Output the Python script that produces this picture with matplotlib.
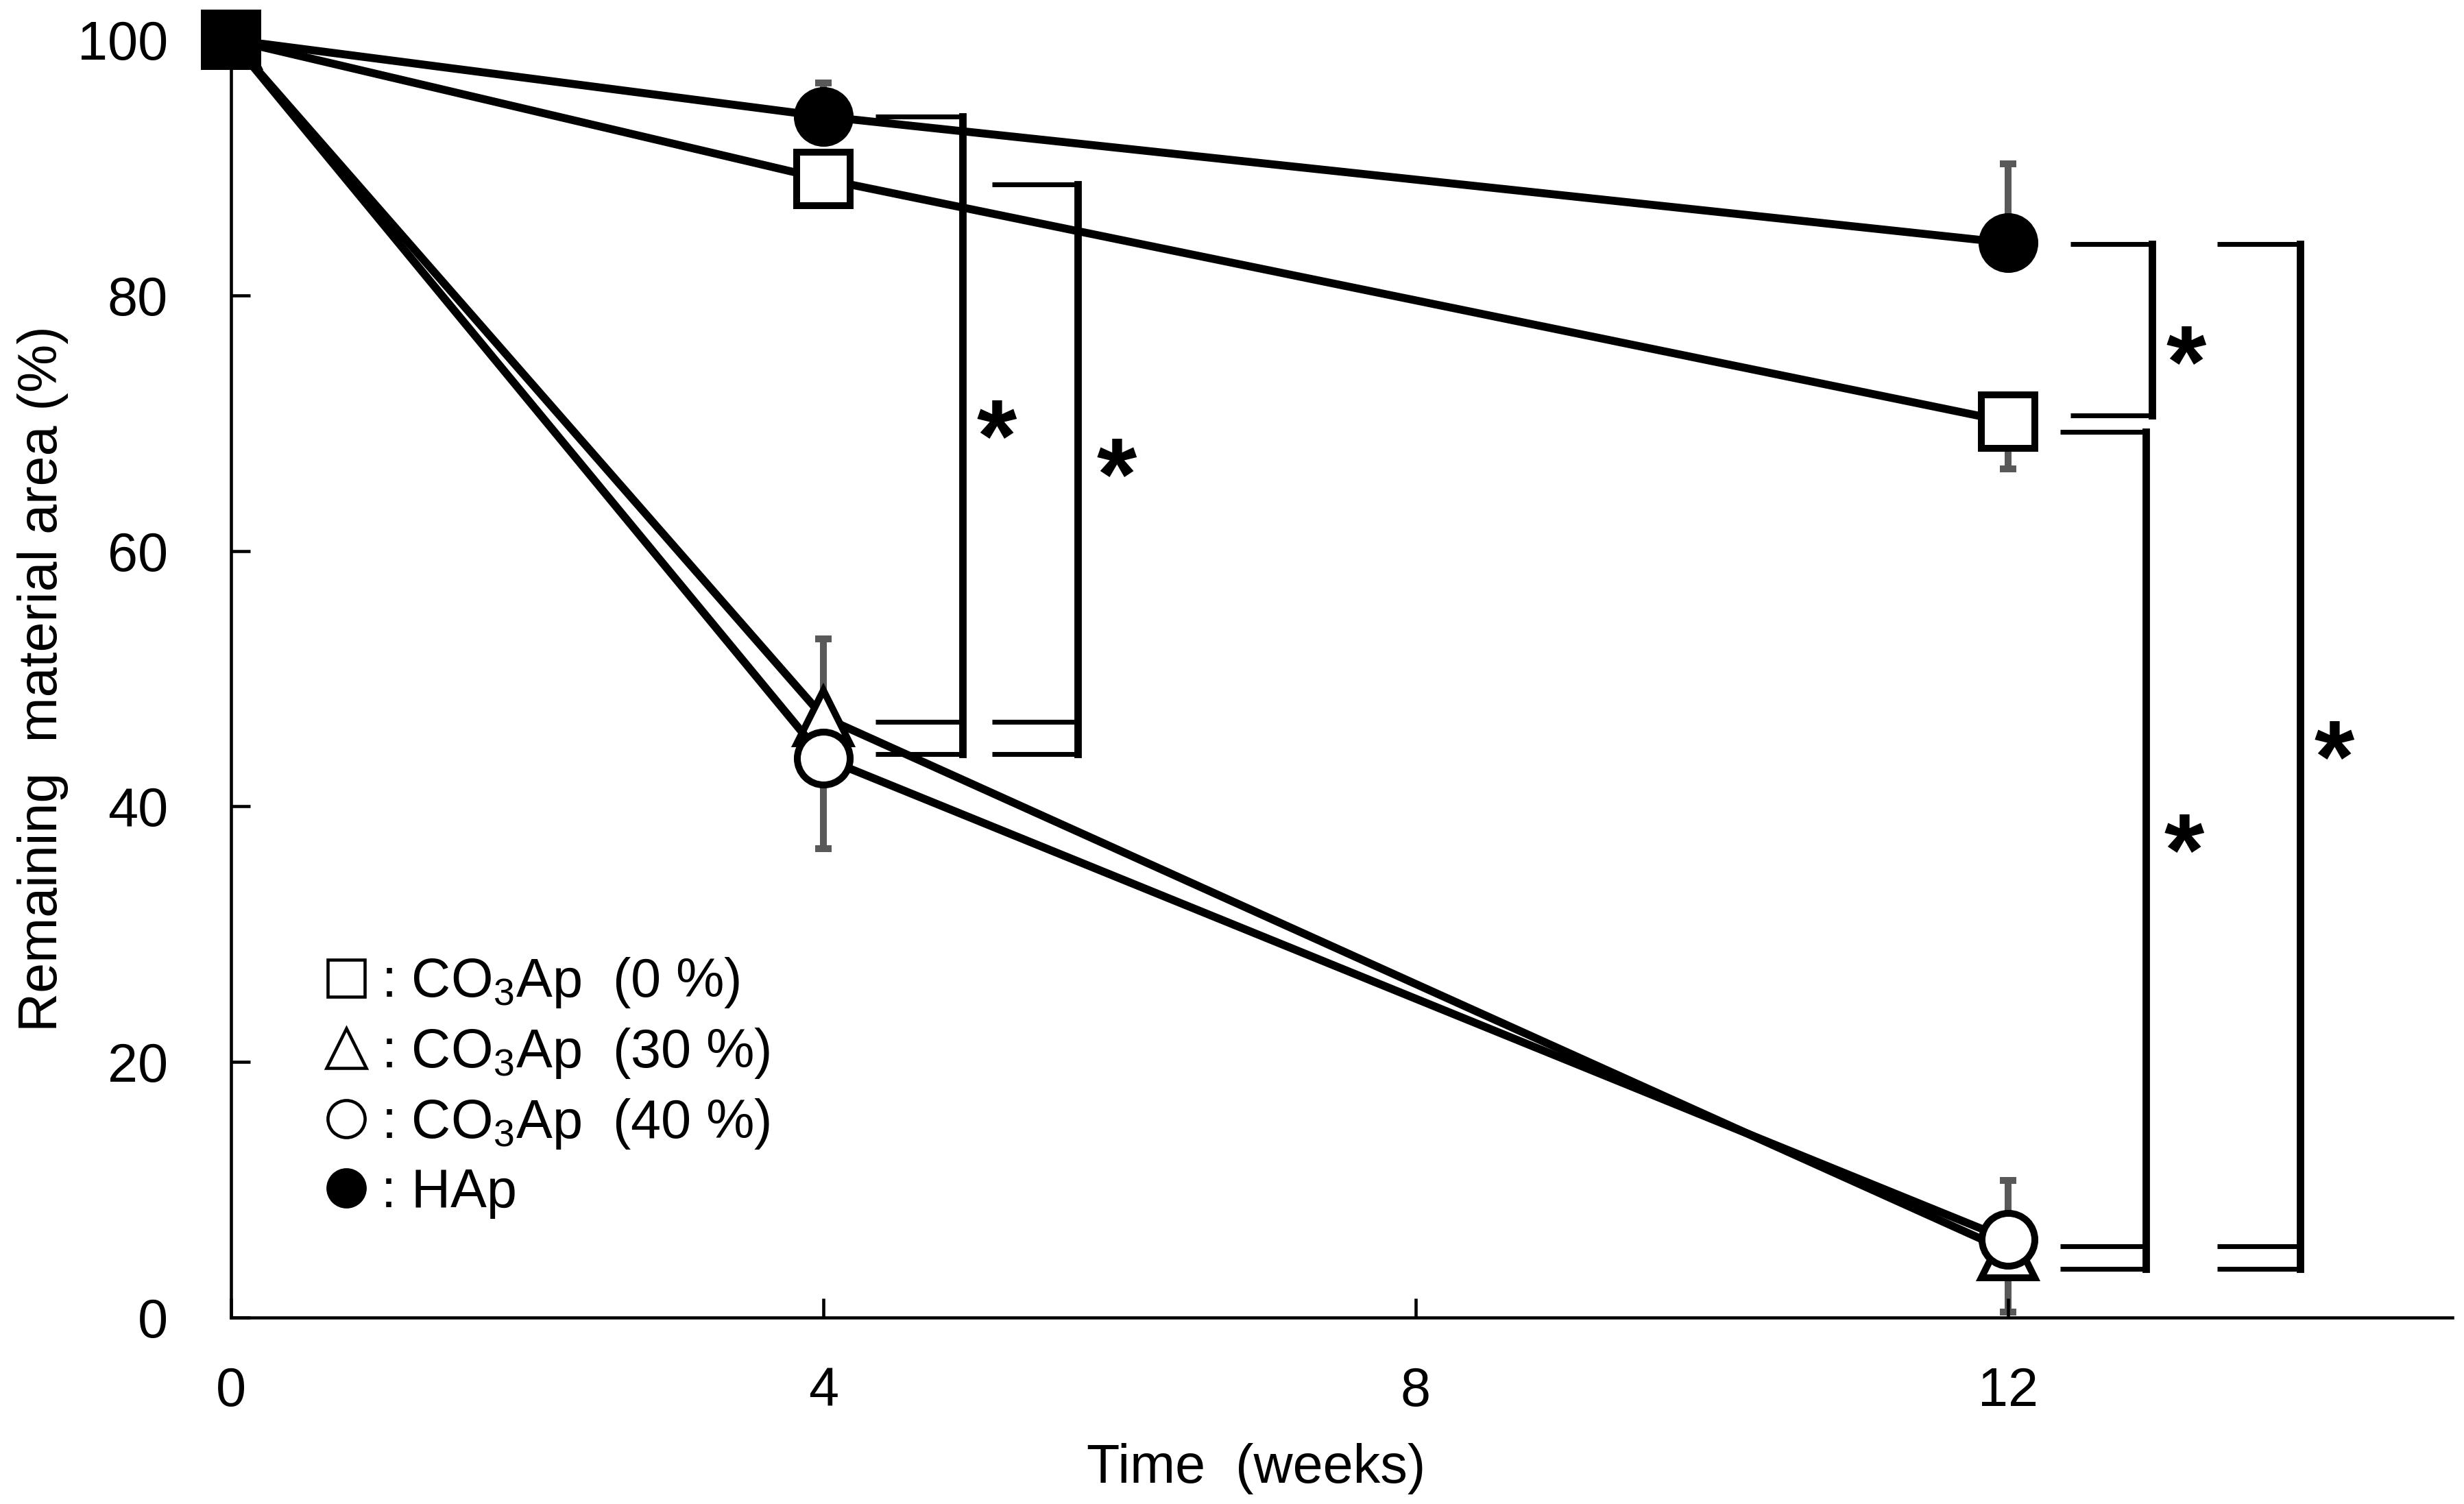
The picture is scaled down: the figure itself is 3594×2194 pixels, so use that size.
import matplotlib.pyplot as plt
from matplotlib.lines import Line2D

plt.rcParams['font.family'] = ['Liberation Sans', 'DejaVu Sans']

# data
weeks = [0, 4, 12]
co3_0 = [100, 89.1, 70.1]
co3_30 = [100, 47.0, 5.2]
co3_40 = [100, 43.8, 6.1]
hap = [100, 94.0, 84.1]

# one-sided error bars (lower, upper)
co3_0_err = [[0, 0, 3.7], [0, 0, 0]]
co3_30_err = [[0, 0, 4.8], [0, 6.1, 0]]
co3_40_err = [[0, 7.1, 0], [0, 0, 4.6]]
hap_err = [[0, 0, 0], [0, 2.6, 6.2]]

# significance brackets: x_left, x_right, y_top, y_bottoms
brackets = [
    (4.35, 4.94, 94.0, [46.6, 44.1]),
    (5.14, 5.72, 88.7, [46.6, 44.1]),
    (12.42, 12.97, 84.0, [70.6]),
    (12.35, 12.93, 69.3, [5.6, 3.8]),
    (13.41, 13.97, 84.0, [5.6, 3.8]),
]
stars = [(5.17, 70.8), (5.98, 67.8), (13.2, 76.6), (13.19, 38.4), (14.2, 45.7)]

labels = [': CO$\\mathregular{_3}$Ap  (0 %)', ': CO$\\mathregular{_3}$Ap  (30 %)',
          ': CO$\\mathregular{_3}$Ap  (40 %)', ': HAp']

fig = plt.figure(figsize=(3595 / 300, 2194 / 300), dpi=300)
ax = fig.add_axes([0.0937, 0.124, 0.9013, 0.8496])

ebar_color = '#595959'
for y, e in [(co3_0, co3_0_err), (co3_30, co3_30_err), (co3_40, co3_40_err), (hap, hap_err)]:
    ax.errorbar(weeks, y, yerr=e, fmt='none', ecolor=ebar_color, elinewidth=2.4,
                capsize=2.9, capthick=2.4, zorder=1)

lw = 2.8
ms = 18.5
mew = 2.4
ax.plot(weeks, co3_0, '-s', color='black', lw=lw, ms=ms, mfc='white', mew=mew, zorder=3)
ax.plot(weeks, co3_30, '-^', color='black', lw=lw, ms=ms, mfc='white', mew=mew, zorder=3)
ax.plot(weeks, co3_40, '-o', color='black', lw=lw, ms=ms, mfc='white', mew=mew, zorder=4)
ax.plot(weeks, hap, '-o', color='black', lw=lw, ms=ms, mfc='black', mew=mew, zorder=5)
# week 0: all groups overlap, shown as a filled square
ax.plot(weeks[0], co3_0[0], 's', color='black', ms=ms, mfc='black', mew=mew,
        zorder=6, clip_on=False)

for xl, xr, yt, ybs in brackets:
    ax.plot([xl, xr], [yt, yt], color='black', lw=1.7, solid_capstyle='butt', zorder=2)
    for yb in ybs:
        ax.plot([xl, xr], [yb, yb], color='black', lw=1.7, solid_capstyle='butt', zorder=2)
    ax.plot([xr, xr], [yt, min(ybs)], color='black', lw=2.6, solid_capstyle='projecting', zorder=2)

for sx, sy in stars:
    ax.text(sx, sy - 2.5, '*', fontsize=36, fontweight='bold', ha='center', va='center')

ax.set_xlim(0, 15)
ax.set_ylim(0, 100)
ax.set_xticks([0, 4, 8, 12])
ax.set_yticks([0, 20, 40, 60, 80, 100])
ax.tick_params(direction='in', length=6.8, width=1.1, labelsize=19)
ax.tick_params(axis='y', pad=22)
ax.tick_params(axis='x', pad=17)
for s in ['top', 'right']:
    ax.spines[s].set_visible(False)
for s in ['left', 'bottom']:
    ax.spines[s].set_linewidth(1.1)

ax.set_xlabel('Time  (weeks)', fontsize=19)
ax.xaxis.set_label_coords(6.92 / 15, -0.098)
ax.set_ylabel('Remaining  material area (%)', fontsize=19)
ax.yaxis.set_label_coords(-0.073, 0.5)

handles = [
    Line2D([], [], ls='none', marker='s', ms=13, mfc='white', mec='black', mew=1.1),
    Line2D([], [], ls='none', marker='^', ms=14, mfc='white', mec='black', mew=1.1),
    Line2D([], [], ls='none', marker='o', ms=13, mfc='white', mec='black', mew=1.1),
    Line2D([], [], ls='none', marker='o', ms=13, mfc='black', mec='black', mew=1.1),
]
ax.legend(handles, labels, loc='upper left', bbox_to_anchor=(0.042, 0.283), frameon=False,
          fontsize=19, handlelength=0.8, handletextpad=0.25, labelspacing=0.3,
          borderpad=0, borderaxespad=0)

fig.savefig('out.png', dpi=300)
